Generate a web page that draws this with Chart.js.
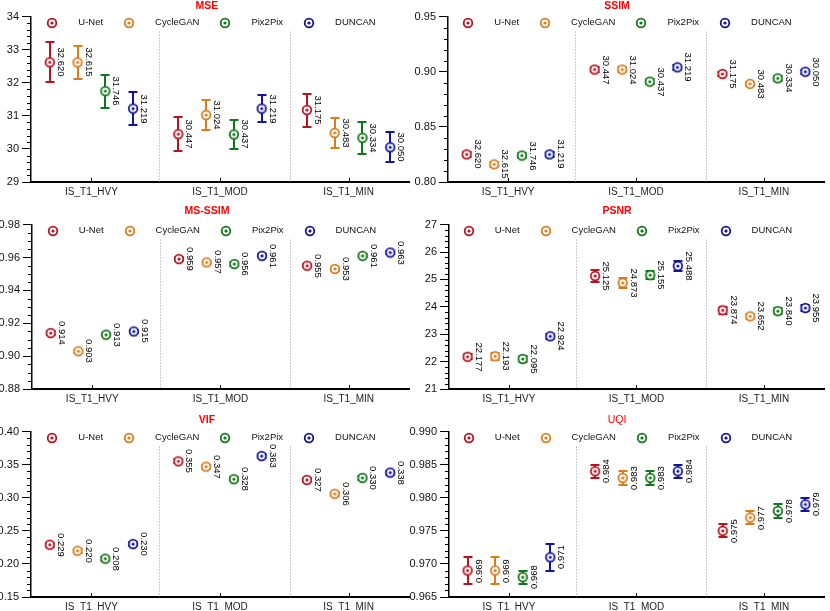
<!DOCTYPE html>
<html>
<head>
<meta charset="utf-8">
<script src="https://cdn.jsdelivr.net/npm/chart.js@4.4.1/dist/chart.umd.min.js"></script>
<style>
  html, body { margin: 0; padding: 0; background: #fff; }
  body { width: 830px; height: 611px; position: relative; overflow: hidden; }
  .panel { position: absolute; }
</style>
</head>
<body>
<div class="panel" id="p0"><canvas id="c0"></canvas></div>
<div class="panel" id="p1"><canvas id="c1"></canvas></div>
<div class="panel" id="p2"><canvas id="c2"></canvas></div>
<div class="panel" id="p3"><canvas id="c3"></canvas></div>
<div class="panel" id="p4"><canvas id="c4"></canvas></div>
<div class="panel" id="p5"><canvas id="c5"></canvas></div>
<script>
const categories = ['IS_T1_HVY', 'IS_T1_MOD', 'IS_T1_MIN'];
const models = ['U-Net', 'CycleGAN', 'Pix2Pix', 'DUNCAN'];
const modelColors = ['#b8141f', '#d87c1c', '#12771a', '#14149a'];

// MSE
const mseUnet = [32.620, 30.447, 31.175];
const mseCycle = [32.615, 31.024, 30.483];
const msePix = [31.746, 30.437, 30.334];
const mseDuncan = [31.219, 31.219, 30.050];
const mseErrUnet = [0.60, 0.52, 0.50];
const mseErrCycle = [0.50, 0.45, 0.46];
const mseErrPix = [0.50, 0.44, 0.48];
const mseErrDuncan = [0.49, 0.42, 0.46];

// SSIM (the printed labels in the source figure repeat the MSE numbers)
const ssimUnet = [0.825, 0.902, 0.898];
const ssimCycle = [0.816, 0.902, 0.889];
const ssimPix = [0.824, 0.891, 0.894];
const ssimDuncan = [0.825, 0.904, 0.900];
const ssimErr = [0.002, 0.002, 0.002];
const ssimLabelUnet = ['32.620', '30.447', '31.175'];
const ssimLabelCycle = ['32.615', '31.024', '30.483'];
const ssimLabelPix = ['31.746', '30.437', '30.334'];
const ssimLabelDuncan = ['31.219', '31.219', '30.050'];

// MS-SSIM
const msssimUnet = [0.914, 0.959, 0.955];
const msssimCycle = [0.903, 0.957, 0.953];
const msssimPix = [0.913, 0.956, 0.961];
const msssimDuncan = [0.915, 0.961, 0.963];
const msssimErr = [0.001, 0.001, 0.001];

// PSNR
const psnrUnet = [22.177, 25.125, 23.874];
const psnrCycle = [22.193, 24.873, 23.652];
const psnrPix = [22.095, 25.155, 23.840];
const psnrDuncan = [22.924, 25.488, 23.955];
const psnrErrUnet = [0.10, 0.22, 0.13];
const psnrErrCycle = [0.12, 0.17, 0.10];
const psnrErrPix = [0.12, 0.15, 0.10];
const psnrErrDuncan = [0.10, 0.18, 0.10];

// VIF
const vifUnet = [0.229, 0.355, 0.327];
const vifCycle = [0.220, 0.347, 0.306];
const vifPix = [0.208, 0.328, 0.330];
const vifDuncan = [0.230, 0.363, 0.338];
const vifErr = [0.003, 0.003, 0.003];

// UQI
const uqiUnet = [0.969, 0.984, 0.975];
const uqiCycle = [0.969, 0.983, 0.977];
const uqiPix = [0.968, 0.983, 0.978];
const uqiDuncan = [0.971, 0.984, 0.979];
const uqiErrUnet = [0.002, 0.001, 0.001];
const uqiErrCycle = [0.002, 0.001, 0.001];
const uqiErrPix = [0.001, 0.001, 0.001];
const uqiErrDuncan = [0.002, 0.001, 0.001];

const fmt3 = arr => arr.map(v => v.toFixed(3));

const panels = [
  { title: 'MSE', bold: true, min: 29, max: 34, step: 1, minor: 5, dec: 0,
    values: [mseUnet, mseCycle, msePix, mseDuncan],
    errors: [mseErrUnet, mseErrCycle, mseErrPix, mseErrDuncan],
    labels: [fmt3(mseUnet), fmt3(mseCycle), fmt3(msePix), fmt3(mseDuncan)], rot: 1 },
  { title: 'SSIM', bold: true, min: 0.80, max: 0.95, step: 0.05, minor: 5, dec: 2,
    values: [ssimUnet, ssimCycle, ssimPix, ssimDuncan],
    errors: [ssimErr, ssimErr, ssimErr, ssimErr],
    labels: [ssimLabelUnet, ssimLabelCycle, ssimLabelPix, ssimLabelDuncan], rot: 1 },
  { title: 'MS-SSIM', bold: true, min: 0.88, max: 0.98, step: 0.02, minor: 4, dec: 2,
    values: [msssimUnet, msssimCycle, msssimPix, msssimDuncan],
    errors: [msssimErr, msssimErr, msssimErr, msssimErr],
    labels: [fmt3(msssimUnet), fmt3(msssimCycle), fmt3(msssimPix), fmt3(msssimDuncan)], rot: 1 },
  { title: 'PSNR', bold: true, min: 21, max: 27, step: 1, minor: 5, dec: 0,
    values: [psnrUnet, psnrCycle, psnrPix, psnrDuncan],
    errors: [psnrErrUnet, psnrErrCycle, psnrErrPix, psnrErrDuncan],
    labels: [fmt3(psnrUnet), fmt3(psnrCycle), fmt3(psnrPix), fmt3(psnrDuncan)], rot: 1 },
  { title: 'VIF', bold: true, min: 0.15, max: 0.40, step: 0.05, minor: 5, dec: 2,
    values: [vifUnet, vifCycle, vifPix, vifDuncan],
    errors: [vifErr, vifErr, vifErr, vifErr],
    labels: [fmt3(vifUnet), fmt3(vifCycle), fmt3(vifPix), fmt3(vifDuncan)], rot: 1 },
  { title: 'UQI', bold: false, min: 0.965, max: 0.990, step: 0.005, minor: 5, dec: 3,
    values: [uqiUnet, uqiCycle, uqiPix, uqiDuncan],
    errors: [uqiErrUnet, uqiErrCycle, uqiErrPix, uqiErrDuncan],
    labels: [fmt3(uqiUnet), fmt3(uqiCycle), fmt3(uqiPix), fmt3(uqiDuncan)], rot: -1 }
];

// page geometry per row / column
const rows = [
  { top: 0, h: 200, axisH: 18, pad: [0, 4], yw: [31, 43] },
  { top: 200, h: 205, axisH: 16, pad: [5, 7], yw: [32, 44] },
  { top: 405, h: 206, axisH: 14, pad: [9, 5], yw: [31, 44] }
];
const cols = [{ left: 0, w: 415 }, { left: 405, w: 425 }];
const offsets = [-0.324, -0.108, 0.108, 0.324];
const separators = [0.525, 1.545];

Chart.defaults.font.family = "'Liberation Sans', Arial, sans-serif";
Chart.defaults.font.size = 10;
Chart.defaults.color = '#111';

function makeMarker(color) {
  const c = document.createElement('canvas');
  c.width = 12; c.height = 12;
  const g = c.getContext('2d');
  g.beginPath();
  g.arc(6, 6, 4.3, 0, Math.PI * 2);
  g.fillStyle = '#fff';
  g.fill();
  g.lineWidth = 1.8;
  g.strokeStyle = color;
  g.stroke();
  g.beginPath();
  g.arc(6, 6, 1.6, 0, Math.PI * 2);
  g.fillStyle = color;
  g.fill();
  return c;
}
const markers = modelColors.map(makeMarker);

const panelPlugin = {
  id: 'panelDecor',
  beforeDatasetsDraw(chart) {
    const { ctx, chartArea, scales: { x, y } } = chart;
    const p = chart.options.plugins.panelDecor;
    ctx.save();
    // dotted category separators
    ctx.strokeStyle = '#9a9a9a';
    ctx.lineWidth = 1;
    ctx.setLineDash([1, 2]);
    separators.forEach(s => {
      const px = Math.round(x.getPixelForValue(s)) + 0.5;
      ctx.beginPath();
      ctx.moveTo(px, chartArea.top + 15);
      ctx.lineTo(px, chartArea.bottom);
      ctx.stroke();
    });
    ctx.setLineDash([]);
    // category tick marks (inside)
    ctx.strokeStyle = '#000';
    categories.forEach((c, i) => {
      const px = Math.round(x.getPixelForValue(i)) + 0.5;
      ctx.beginPath();
      ctx.moveTo(px, chartArea.bottom);
      ctx.lineTo(px, chartArea.bottom - 4);
      ctx.stroke();
    });
    // minor y ticks
    const minorStep = p.step / p.minor;
    const n = Math.round((p.max - p.min) / minorStep);
    for (let k = 0; k <= n; k++) {
      if (k % p.minor === 0) continue;
      const py = Math.round(y.getPixelForValue(p.min + k * minorStep)) + 0.5;
      ctx.beginPath();
      ctx.moveTo(chartArea.left - 4, py);
      ctx.lineTo(chartArea.left, py);
      ctx.stroke();
    }
    // error bars
    chart.data.datasets.forEach((ds, i) => {
      const meta = chart.getDatasetMeta(i);
      ctx.strokeStyle = ds.color;
      ctx.lineWidth = 2;
      meta.data.forEach((pt, j) => {
        const v = ds.data[j].y, e = ds.errors[j];
        const px = Math.round(pt.x);
        const yt = Math.round(y.getPixelForValue(v + e)), yb = Math.round(y.getPixelForValue(v - e));
        ctx.beginPath();
        ctx.moveTo(px, yt); ctx.lineTo(px, yb);
        ctx.moveTo(px - 4.5, yt); ctx.lineTo(px + 4.5, yt);
        ctx.moveTo(px - 4.5, yb); ctx.lineTo(px + 4.5, yb);
        ctx.stroke();
      });
    });
    ctx.restore();
  },
  afterDatasetsDraw(chart) {
    const { ctx } = chart;
    const p = chart.options.plugins.panelDecor;
    ctx.save();
    ctx.font = "9.5px 'Liberation Sans', Arial, sans-serif";
    ctx.fillStyle = '#000';
    ctx.textAlign = 'center';
    ctx.textBaseline = 'middle';
    chart.data.datasets.forEach((ds, i) => {
      chart.getDatasetMeta(i).data.forEach((pt, j) => {
        ctx.save();
        ctx.translate(Math.round(pt.x) + 11, Math.round(pt.y));
        ctx.rotate(p.rot * Math.PI / 2);
        ctx.fillText(ds.valueLabels[j], 0, 0);
        ctx.restore();
      });
    });
    ctx.restore();
  },
  afterDraw(chart) {
    // legend inside the top of the plot area
    const { ctx, chartArea } = chart;
    ctx.save();
    ctx.font = "9.5px 'Liberation Sans', Arial, sans-serif";
    ctx.fillStyle = '#111';
    ctx.textBaseline = 'middle';
    ctx.textAlign = 'left';
    const widths = models.map(m => 5 + 26 + ctx.measureText(m).width + 21);
    const total = widths.reduce((a, b) => a + b, 0);
    let x0 = (chartArea.left + chartArea.right) / 2 - total / 2 + 2;
    const ly = chartArea.top + 6;
    models.forEach((m, i) => {
      const mk = markers[i];
      ctx.drawImage(mk, Math.round(x0 + 5 - mk.width / 2), Math.round(ly - mk.height / 2));
      ctx.fillText(m, x0 + 31, ly);
      x0 += widths[i];
    });
    ctx.restore();
  }
};

panels.forEach((p, idx) => {
  const row = rows[Math.floor(idx / 2)];
  const colIdx = idx % 2;
  const col = cols[colIdx];
  const div = document.getElementById('p' + idx);
  div.style.left = col.left + 'px';
  div.style.top = row.top + 'px';
  div.style.width = col.w + 'px';
  div.style.height = row.h + 'px';

  const datasets = models.map((m, i) => ({
    label: m,
    color: modelColors[i],
    data: p.values[i].map((v, j) => ({ x: j + offsets[i], y: v })),
    errors: p.errors[i],
    valueLabels: p.labels[i],
    pointStyle: markers[i],
    pointRadius: 5,
    showLine: false
  }));

  new Chart(document.getElementById('c' + idx), {
    type: 'scatter',
    data: { datasets },
    plugins: [panelPlugin],
    options: {
      responsive: true,
      maintainAspectRatio: false,
      animation: false,
      events: [],
      layout: { padding: { top: 0, right: 1, bottom: 0, left: 0 } },
      plugins: {
        legend: { display: false },
        tooltip: { enabled: false },
        title: {
          display: true,
          text: p.title,
          color: '#ff0000',
          font: { size: 10.5, weight: p.bold ? 'bold' : 'normal' },
          padding: { top: row.pad[0], bottom: row.pad[1] }
        },
        panelDecor: { step: p.step, minor: p.minor, min: p.min, max: p.max, rot: p.rot }
      },
      scales: {
        x: {
          type: 'linear',
          min: -0.47,
          max: 2.47,
          afterBuildTicks: s => { s.ticks = categories.map((c, i) => ({ value: i })); },
          afterFit: s => { s.height = row.axisH; },
          ticks: {
            callback: v => categories[v],
            color: '#222',
            font: { size: 10 },
            padding: 4,
            maxRotation: 0,
            autoSkip: false
          },
          grid: { display: false, drawTicks: false },
          border: { color: '#000', width: 2 }
        },
        y: {
          min: p.min,
          max: p.max,
          afterFit: s => { s.width = row.yw[colIdx]; },
          ticks: {
            stepSize: p.step,
            callback: v => Number(v).toFixed(p.dec),
            color: '#111',
            font: { size: 11 },
            padding: 3
          },
          grid: { drawOnChartArea: false, tickLength: 9, tickColor: '#000', tickWidth: 1 },
          border: { color: '#000', width: 1.5 }
        }
      }
    }
  });
});
</script>
</body>
</html>
